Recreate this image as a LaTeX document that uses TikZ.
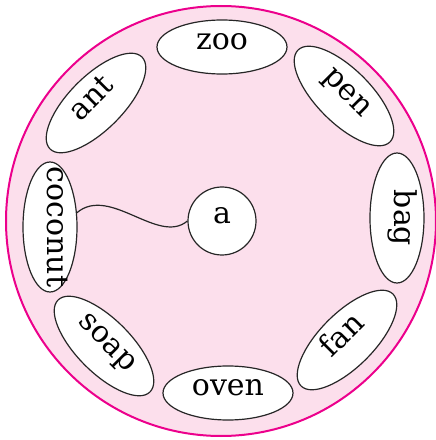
\documentclass[tikz,border=0pt]{standalone}
\usepackage{fontspec}
\setmainfont{DejaVu Serif}
\usetikzlibrary{shapes.geometric}
\definecolor{ringpink}{RGB}{236,0,140}
\definecolor{softpink}{RGB}{252,223,236}
\tikzstyle{word} = [ellipse, draw=black!85, line width=1.2pt, fill=white, minimum width=130pt, minimum height=54pt, inner sep=0pt, text height=1ex, text depth=0pt, font=\fontsize{30}{31}\selectfont]
\tikzstyle{letter} = [circle, draw=black!85, line width=1.2pt, fill=white, minimum size=68pt, inner sep=0pt, text height=1ex, text depth=0pt, font=\fontsize{30}{31}\selectfont]

\begin{document}
\begin{tikzpicture}[x=1pt, y=1pt]
\useasboundingbox (0,0) rectangle (436,440);
\draw [ringpink, fill=softpink, line width=2pt] (221,219) circle (215);

\node (zoo) [word] at (222,393) {zoo};
\node (pen) [word, rotate=-45] at (344,344) {pen};
\node (bag) [word, rotate=-90] at (397,222) {bag};
\node (fan) [word, rotate=45] at (347,100) {fan};
\node (oven) [word] at (228,47) {oven};
\node (soap) [word, rotate=-45] at (104,94) {soap};
\node (coconut) [word, rotate=-90] at (50,213) {\makebox[0pt]{coconut}};
\node (ant) [word, rotate=45] at (96,337) {ant};

\node (a) [letter] at (222,219) {a};

\draw [line width=1.2pt, black!85] (coconut.118) to[out=40, in=220, out distance=43pt, in distance=38pt] (a.west);
\end{tikzpicture}
\end{document}
